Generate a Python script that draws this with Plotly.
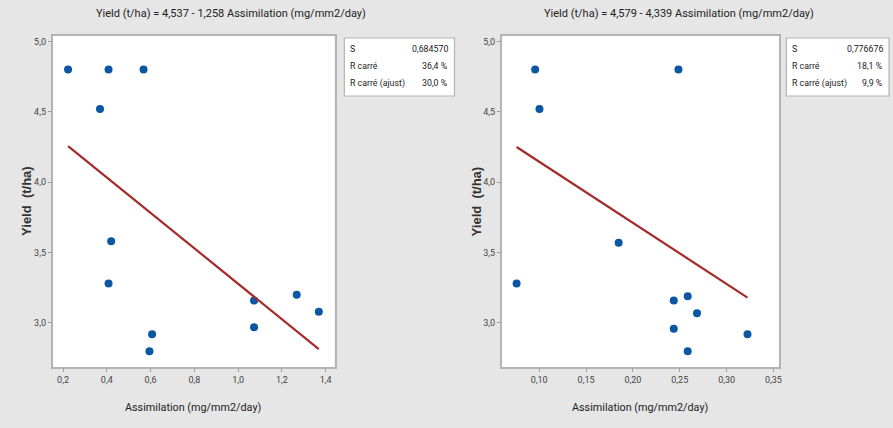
import plotly.graph_objects as go

W, H = 893, 428

# ---------------- data ----------------
assim_a = [0.223, 0.408, 0.568, 0.369, 0.420, 0.408, 0.607, 0.595, 1.073, 1.073, 1.268, 1.369]
yield_a = [4.80, 4.80, 4.80, 4.52, 3.58, 3.28, 2.92, 2.80, 3.16, 2.97, 3.20, 3.08]
fit_a = (4.537, -1.258)
stats_a = [("S", "0,684570"), ("R carré", "36,4 %"), ("R carré (ajust)", "30,0 %")]
title_a = "Yield (t/ha) = 4,537 - 1,258 Assimilation (mg/mm2/day)"

assim_b = [0.0957, 0.2486, 0.1003, 0.0759, 0.1848, 0.2436, 0.2585, 0.2684, 0.2436, 0.2585, 0.3223]
yield_b = [4.80, 4.80, 4.52, 3.28, 3.57, 3.16, 3.19, 3.07, 2.96, 2.80, 2.92]
fit_b = (4.579, -4.339)
stats_b = [("S", "0,776676"), ("R carré", "18,1 %"), ("R carré (ajust)", "9,9 %")]
title_b = "Yield (t/ha) = 4,579 - 4,339 Assimilation (mg/mm2/day)"

x_title = "Assimilation (mg/mm2/day)"
y_title = "Yield&nbsp;&nbsp;(t/ha)"

FONT = "Roboto, sans-serif"
BLUE = "#0b57a4"
RED = "#a52a2a"

def px(x):
    return x / W

def py(y):
    return 1 - y / H

fig = go.Figure()

def add_panel(i, xs, ys, fit, xdom, xrange, xticks, xfmt):
    xa = "x" if i == 1 else "x2"
    ya = "y" if i == 1 else "y2"
    fig.add_trace(go.Scatter(x=xs, y=ys, mode="markers", xaxis=xa, yaxis=ya,
                             marker=dict(color=BLUE, size=8), showlegend=False))
    lx = [min(xs), max(xs)]
    ly = [fit[0] + fit[1] * v for v in lx]
    fig.add_trace(go.Scatter(x=lx, y=ly, mode="lines", xaxis=xa, yaxis=ya,
                             line=dict(color=RED, width=2.2), showlegend=False))
    axis_common = dict(showgrid=False, zeroline=False, showline=True, mirror=True,
                       linecolor="#b4b4b4", linewidth=1.5, ticks="outside",
                       ticklen=3, tickcolor="#9a9a9a",
                       tickfont=dict(family=FONT, size=9, color="#444"))
    xkey = "xaxis" if i == 1 else "xaxis2"
    ykey = "yaxis" if i == 1 else "yaxis2"
    fig.update_layout(**{
        xkey: dict(domain=xdom, range=xrange, tickvals=xticks, tickformat=xfmt,
                   anchor=ya, **axis_common),
        ykey: dict(domain=[py(367), py(36)], range=[2.6875, 5.038],
                   tickvals=[3.0, 3.5, 4.0, 4.5, 5.0], tickformat=".1f",
                   anchor=xa, **axis_common),
    })

add_panel(1, assim_a, yield_a, fit_a, [px(52.7), px(335.7)], [0.152, 1.441],
          [0.2, 0.4, 0.6, 0.8, 1.0, 1.2, 1.4], ".1f")
add_panel(2, assim_b, yield_b, fit_b, [px(503.3), px(781.7)], [0.0599, 0.356],
          [0.10, 0.15, 0.20, 0.25, 0.30, 0.35], ".2f")

ann = []
shapes = []

def panel_text(title, tx, xc, ylab_x, stats, bx0, bx1):
    ann.append(dict(text=title, x=px(tx), y=py(14), xref="paper", yref="paper",
                    showarrow=False, xanchor="center", yanchor="middle",
                    font=dict(family=FONT, size=11, color="#222")))
    ann.append(dict(text=x_title, x=px(xc), y=py(407), xref="paper", yref="paper",
                    showarrow=False, xanchor="center", yanchor="middle",
                    font=dict(family=FONT, size=10.8, color="#222")))
    ann.append(dict(text="<b>" + y_title + "</b>", x=px(ylab_x), y=py(201),
                    xref="paper", yref="paper", showarrow=False, textangle=-90,
                    xanchor="center", yanchor="middle",
                    font=dict(family="Liberation Sans, Arial, sans-serif", size=13, color="#333")))
    shapes.append(dict(type="rect", xref="paper", yref="paper",
                       x0=px(bx0), x1=px(bx1), y0=py(96), y1=py(38),
                       fillcolor="white", line=dict(color="#b4b4b4", width=1.2)))
    for k, (lab, val) in enumerate(stats):
        yy = py(49 + 17 * k)
        ann.append(dict(text=lab, x=px(bx0 + 4), y=yy, xref="paper", yref="paper",
                        showarrow=False, xanchor="left", yanchor="middle",
                        font=dict(family=FONT, size=8.8, color="#222")))
        ann.append(dict(text=val, x=px(bx1 - 4), y=yy, xref="paper", yref="paper",
                        showarrow=False, xanchor="right", yanchor="middle",
                        font=dict(family=FONT, size=8.8, color="#222")))

panel_text(title_a, 232, 194, 26, stats_a, 345.5, 456)
panel_text(title_b, 681, 642, 478, stats_b, 789, 892)

fig.update_layout(width=W, height=H, margin=dict(l=0, r=0, t=0, b=0),
                  paper_bgcolor="#e6e6e6", plot_bgcolor="white",
                  separators=", ", annotations=ann, shapes=shapes)

fig.write_html("out.html", config={"displayModeBar": False},
               post_script="document.body.style.margin='0';document.body.style.overflow='hidden';")
